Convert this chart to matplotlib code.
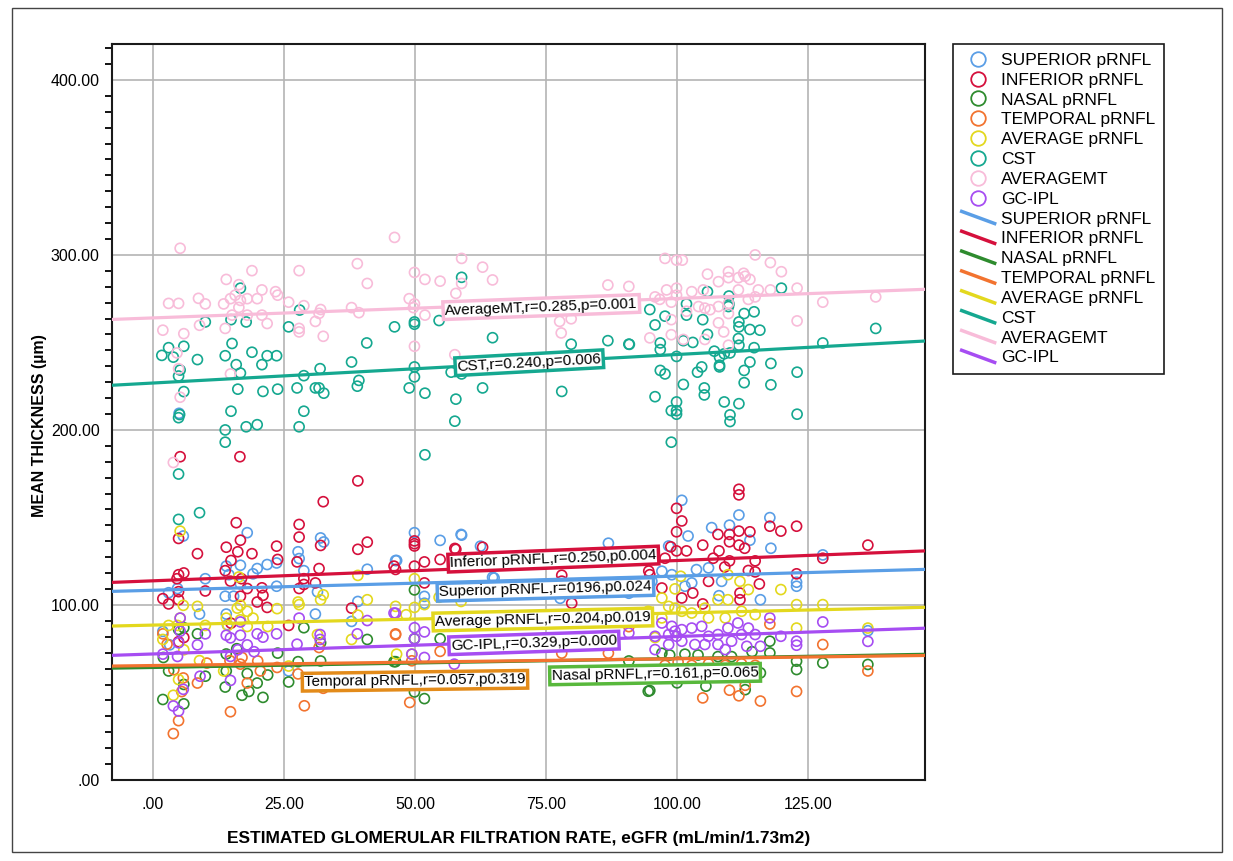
"""
Scatter of retinal layer thickness against eGFR, with linear fit lines
"""

import numpy as np
import matplotlib
matplotlib.use('Agg')
import matplotlib.pyplot as plt
from matplotlib.lines import Line2D
from matplotlib.patches import Rectangle
from matplotlib.legend_handler import HandlerBase
from matplotlib.ticker import FuncFormatter, MultipleLocator

plt.rcParams['font.family'] = ['Liberation Sans', 'DejaVu Sans']

# series names (legend order)
names = ['SUPERIOR pRNFL', 'INFERIOR pRNFL', 'NASAL pRNFL', 'TEMPORAL pRNFL',
         'AVERAGE pRNFL', 'CST', 'AVERAGEMT', 'GC-IPL']
colors = ['#5a9ee6', '#d5103c', '#2e8b2e', '#f2732f',
          '#e3d81e', '#15a890', '#f8bcd9', '#a64df2']

# scatter data
sup_x = [18.0, 5.8, 32.0, 32.6, 27.7, 27.9, 14.0, 16.7, 19.9, 21.8, 23.6, 19.1, 10.0, 14.5, 16.7,
         40.9, 46.3, 28.8, 31.4, 3.0, 4.7, 13.8, 15.4, 23.6, 8.9, 14.0, 39.1, 31.0, 37.9, 1.9,
         3.2, 14.2, 25.9, 49.9, 54.8, 58.8, 62.5, 46.5, 86.9, 51.8, 51.8, 65.1, 77.7, 90.8, 58.9,
         64.8, 100.9, 111.8, 117.7, 106.6, 110.0, 113.9, 117.9, 102.1, 98.4, 127.8, 103.7, 106.0,
         97.1, 95.2, 99.0, 108.5, 122.8, 122.8, 115.9, 108.0, 136.4, 101.5, 102.8, 5.0]
sup_y = [141.3, 139.4, 138.3, 136.0, 130.4, 126.5, 122.2, 122.7, 120.8, 123.1, 124.0, 117.8, 115.0,
         117.3, 112.0, 120.4, 125.4, 119.6, 107.5, 107.0, 109.4, 105.0, 105.0, 110.7, 94.8, 94.8,
         102.0, 94.8, 90.6, 84.9, 77.2, 88.7, 62.3, 141.3, 136.9, 140.3, 133.6, 125.4, 135.3, 104.9,
         101.0, 115.4, 103.8, 106.7, 139.9, 115.8, 159.8, 151.4, 149.9, 144.2, 145.6, 137.0, 132.4,
         139.4, 133.7, 128.6, 120.2, 121.2, 119.3, 113.5, 117.3, 113.5, 113.0, 110.7, 103.0, 105.3,
         85.3, 110.7, 112.6, 209.5]

inf_x = [39.1, 32.5, 15.9, 27.9, 27.9, 16.7, 4.9, 32.0, 40.9, 39.1, 8.5, 14.0, 16.2, 18.9, 23.6,
         23.8, 14.9, 27.5, 31.7, 13.8, 4.9, 5.9, 4.6, 14.8, 16.9, 28.8, 28.8, 31.0, 46.3, 18.0,
         20.8, 21.0, 16.7, 1.9, 3.0, 4.9, 4.9, 10.0, 19.9, 21.8, 37.9, 27.9, 25.9, 5.9, 4.9, 14.9,
         5.2, 16.6, 49.9, 49.9, 49.9, 57.8, 46.0, 49.9, 51.8, 54.8, 51.8, 94.6, 79.9, 78.0, 57.6,
         62.9, 78.0, 111.8, 111.8, 99.9, 100.9, 99.9, 117.7, 119.8, 122.8, 136.4, 98.8, 99.9,
         101.8, 97.7, 107.8, 110.0, 111.8, 113.9, 104.9, 108.0, 111.8, 110.0, 112.9, 106.9, 110.0,
         114.9, 109.1, 113.6, 114.9, 115.7, 122.8, 127.8, 112.0, 100.9, 103.0, 104.9, 97.1, 94.8,
         106.0, 112.0]
inf_y = [170.9, 159.0, 147.0, 146.0, 138.8, 137.0, 138.0, 134.0, 135.9, 131.8, 129.3, 133.0, 130.4,
         129.3, 133.6, 126.0, 125.4, 124.6, 120.8, 119.6, 117.3, 118.3, 115.0, 113.6, 115.0, 115.0,
         111.7, 112.6, 120.3, 109.4, 109.8, 105.5, 105.0, 103.6, 100.6, 103.0, 107.6, 108.0, 101.7,
         98.6, 98.2, 109.4, 88.3, 81.4, 79.0, 89.6, 184.7, 184.7, 136.6, 135.0, 133.7, 131.8, 122.2,
         122.2, 124.6, 126.0, 112.6, 119.4, 101.0, 113.6, 132.3, 133.0, 117.0, 166.1, 162.9, 155.2,
         148.0, 141.8, 145.0, 142.2, 145.0, 134.2, 133.2, 130.9, 130.9, 126.7, 140.3, 140.3, 142.2,
         141.8, 134.2, 130.9, 134.2, 136.1, 132.4, 126.7, 125.2, 125.2, 121.7, 119.7, 118.9, 112.0,
         117.8, 126.7, 106.8, 104.0, 106.8, 100.6, 109.7, 117.3, 113.5, 103.0]

nas_x = [4.9, 5.9, 8.5, 3.0, 1.9, 5.9, 5.9, 10.0, 14.0, 13.8, 18.0, 17.0, 18.3, 19.9, 21.0, 21.9,
         23.8, 25.9, 28.8, 32.0, 32.0, 27.7, 40.9, 46.3, 49.9, 49.9, 54.8, 46.0, 49.9, 51.8, 94.5,
         90.8, 117.7, 117.7, 122.8, 122.8, 127.8, 136.4, 94.8, 100.0, 105.5, 115.9, 113.0, 98.6,
         101.5, 104.0, 107.8, 110.4, 114.3, 97.1, 14.0, 16.0, 2.0]
nas_y = [86.0, 87.0, 83.5, 62.3, 46.0, 43.5, 54.6, 59.3, 62.3, 53.1, 60.8, 48.4, 50.6, 55.4, 47.2,
         60.0, 72.5, 56.0, 87.0, 78.4, 68.0, 67.6, 80.3, 67.6, 108.6, 80.7, 80.7, 67.6, 50.3, 46.5,
         50.7, 68.0, 79.3, 72.6, 67.9, 63.1, 66.9, 66.0, 51.1, 55.5, 53.6, 61.2, 51.6, 71.4, 71.9,
         71.4, 70.5, 70.5, 73.3, 72.4, 72.0, 75.0, 70.0]

tem_x = [1.9, 2.7, 5.8, 4.9, 3.9, 8.5, 14.8, 14.7, 16.7, 18.0, 20.5, 23.7, 27.7, 28.9, 32.5, 31.7,
         46.3, 10.3, 46.3, 54.8, 49.4, 49.0, 78.0, 86.9, 90.8, 127.8, 122.8, 117.7, 104.9, 110.0,
         111.8, 115.9, 136.4, 97.7, 100.2, 102.8, 106.0, 109.2, 112.3, 114.9, 113.0, 5.5, 4.0,
         17.0, 20.0]
tem_y = [83.5, 77.6, 58.3, 33.9, 26.5, 55.4, 39.0, 68.2, 66.2, 55.4, 62.3, 64.3, 60.6, 42.4, 52.4,
         75.7, 83.5, 66.8, 83.0, 73.5, 68.1, 44.3, 72.5, 72.5, 87.6, 77.4, 50.6, 89.1, 46.9, 51.3,
         48.1, 45.1, 62.3, 65.5, 67.4, 65.5, 66.4, 65.5, 66.4, 65.5, 54.1, 50.5, 63.0, 70.0, 68.0]

avg_x = [5.2, 16.4, 8.5, 5.8, 16.1, 16.7, 18.0, 23.7, 27.7, 27.9, 32.0, 32.5, 40.9, 39.1, 14.0,
         16.7, 19.1, 3.0, 5.2, 4.7, 21.9, 10.0, 14.3, 18.0, 1.9, 5.9, 8.9, 4.9, 3.9, 13.5, 25.9,
         37.9, 39.1, 46.3, 31.4, 49.9, 49.9, 48.3, 51.8, 54.6, 58.8, 46.5, 49.4, 100.7, 109.7,
         112.0, 119.8, 113.6, 99.6, 97.1, 98.4, 99.6, 100.9, 102.8, 105.3, 107.8, 109.7, 112.3,
         114.9, 122.8, 127.8, 122.8, 136.4, 94.5, 95.8, 106.0, 109.2, 97.1]
avg_y = [142.2, 116.0, 99.2, 99.8, 98.2, 99.8, 96.4, 97.9, 101.7, 100.2, 103.0, 105.8, 103.0, 116.9,
         92.5, 91.5, 92.5, 88.3, 92.5, 88.3, 87.7, 88.3, 88.3, 87.7, 80.3, 74.4, 68.2, 57.4, 48.4,
         62.3, 65.1, 80.3, 94.2, 99.2, 83.1, 115.0, 98.6, 94.4, 100.2, 104.4, 102.0, 71.9, 71.9,
         116.4, 117.3, 113.5, 108.8, 108.8, 109.2, 104.0, 99.2, 98.2, 96.4, 95.4, 98.2, 103.0, 103.0,
         96.4, 94.5, 100.2, 100.2, 86.8, 86.8, 96.4, 81.4, 92.6, 92.6, 92.6]

cst_x = [10.0, 14.9, 17.8, 16.7, 28.0, 25.9, 46.1, 49.9, 49.9, 58.9, 54.6, 40.8, 64.8, 79.8, 86.8,
         90.8, 3.0, 5.9, 1.7, 3.9, 8.5, 5.2, 4.9, 5.9, 5.1, 4.9, 15.1, 13.8, 15.9, 18.9, 21.8, 23.6,
         20.8, 16.7, 16.2, 21.0, 23.8, 14.9, 13.8, 13.8, 17.8, 19.9, 27.5, 28.8, 31.9, 31.0, 31.7,
         32.6, 28.8, 27.9, 37.9, 39.3, 39.0, 48.9, 49.9, 49.9, 51.9, 56.9, 58.9, 57.8, 57.6, 62.9,
         78.0, 4.9, 4.9, 8.9, 51.9, 105.8, 119.9, 109.9, 94.8, 101.8, 101.8, 95.8, 97.7, 104.9,
         109.9, 109.8, 105.8, 111.8, 111.8, 112.8, 114.7, 113.9, 115.8, 111.7, 111.8, 114.7, 90.9,
         96.8, 96.8, 103.0, 101.2, 99.9, 107.1, 108.1, 109.0, 110.1, 108.1, 108.1, 104.7, 103.9,
         96.8, 97.7, 101.2, 105.2, 105.2, 95.8, 99.9, 99.9, 98.9, 99.9, 98.9, 109.0, 111.8, 110.1,
         110.1, 112.8, 113.9, 112.8, 117.9, 117.9, 122.9, 122.9, 127.8, 137.9]
cst_y = [261.7, 263.0, 261.7, 281.0, 268.5, 258.9, 258.9, 261.7, 260.4, 287.2, 262.5, 249.7, 252.7,
         249.0, 251.0, 249.0, 247.0, 247.8, 242.6, 241.6, 240.2, 234.2, 230.8, 221.9, 208.8, 207.0,
         249.4, 242.4, 237.3, 244.4, 242.4, 242.4, 237.3, 232.5, 223.3, 222.0, 223.3, 210.7, 200.0,
         193.0, 201.8, 203.0, 224.0, 231.0, 235.0, 224.0, 224.0, 221.0, 210.7, 201.8, 238.8, 228.3,
         225.0, 224.0, 236.0, 230.3, 221.0, 233.0, 232.0, 217.6, 205.0, 224.0, 222.0, 174.8, 148.9,
         152.7, 185.8, 279.0, 281.0, 276.5, 268.8, 272.0, 265.6, 260.0, 265.0, 263.0, 272.0, 270.5,
         254.6, 261.7, 258.9, 266.5, 267.5, 257.4, 257.0, 252.2, 248.4, 247.0, 248.9, 249.7, 245.9,
         250.0, 251.0, 242.0, 245.0, 241.6, 243.5, 244.0, 237.0, 236.0, 236.0, 233.0, 234.0, 232.0,
         226.0, 224.0, 220.0, 219.0, 216.0, 211.0, 211.0, 209.0, 193.0, 216.0, 215.0, 208.6, 204.8,
         234.0, 238.8, 227.0, 238.0, 225.8, 233.0, 209.0, 249.7, 258.0]

amt_x = [5.2, 3.0, 4.9, 1.9, 5.9, 4.9, 5.2, 4.6, 8.7, 10.0, 8.9, 14.0, 13.5, 14.8, 15.7, 16.7,
         18.0, 18.9, 16.4, 19.9, 20.8, 13.8, 15.1, 18.0, 20.8, 21.8, 23.4, 23.8, 14.8, 16.4, 25.9,
         27.9, 28.8, 27.9, 27.9, 31.0, 32.0, 31.7, 32.5, 39.0, 40.9, 37.9, 39.3, 46.1, 49.9, 51.9,
         54.8, 48.9, 49.9, 49.7, 49.9, 51.9, 58.9, 58.9, 57.8, 57.6, 62.9, 64.8, 77.6, 79.8, 77.9,
         86.8, 90.8, 97.7, 99.9, 101.0, 95.8, 96.7, 98.0, 99.9, 99.9, 98.9, 102.8, 105.0, 105.8,
         107.9, 109.8, 109.8, 111.7, 112.7, 113.0, 113.9, 114.9, 117.8, 119.9, 115.5, 117.8, 122.9,
         111.7, 113.6, 114.9, 109.8, 107.9, 105.3, 106.3, 104.1, 101.8, 98.9, 98.9, 94.8, 101.2,
         105.3, 107.9, 108.9, 109.8, 109.8, 122.9, 127.8, 137.9, 3.9]
amt_y = [303.8, 272.3, 272.3, 257.0, 255.0, 235.0, 218.7, 244.0, 275.2, 272.0, 259.8, 286.0, 272.0,
         275.0, 277.0, 274.0, 275.0, 291.0, 270.0, 275.0, 280.0, 258.0, 265.6, 265.6, 265.6, 260.8,
         279.0, 277.0, 232.0, 283.0, 273.0, 291.0, 271.0, 258.0, 256.0, 262.0, 268.8, 266.6, 253.5,
         295.0, 283.7, 269.9, 267.0, 310.0, 290.0, 286.0, 285.0, 275.0, 272.0, 269.9, 247.8, 265.6,
         298.0, 283.7, 278.0, 243.0, 293.0, 285.7, 262.0, 263.5, 255.4, 282.8, 282.0, 298.0, 297.0,
         297.0, 276.0, 274.6, 280.0, 281.0, 277.0, 273.0, 279.0, 280.0, 289.0, 284.7, 290.4, 287.0,
         287.0, 289.5, 287.8, 286.0, 300.0, 295.6, 290.4, 280.0, 280.0, 281.0, 280.0, 274.6, 276.0,
         272.3, 270.5, 269.6, 268.7, 270.5, 267.8, 263.0, 254.4, 252.6, 251.7, 251.7, 261.2, 256.0,
         248.4, 266.5, 262.3, 273.0, 276.0, 181.4]

gc_x = [5.2, 5.2, 4.9, 10.0, 8.5, 14.0, 14.8, 16.7, 16.7, 19.9, 21.0, 23.6, 18.0, 16.2, 14.8, 19.3,
        27.5, 27.9, 31.9, 31.9, 1.9, 4.7, 9.0, 14.8, 5.8, 3.9, 4.9, 39.0, 40.9, 46.3, 49.9, 49.9,
        51.8, 46.0, 49.4, 51.8, 57.5, 90.8, 117.7, 127.8, 136.4, 97.1, 99.0, 99.6, 99.9, 100.9,
        98.4, 95.8, 102.8, 104.7, 106.0, 107.8, 109.7, 111.6, 112.3, 113.6, 114.9, 110.4, 107.8,
        105.3, 103.4, 100.9, 98.4, 95.8, 115.9, 113.3, 122.8, 122.8, 119.8, 109.2]
gc_y = [92.5, 85.0, 78.4, 83.5, 77.2, 82.7, 81.2, 82.7, 90.3, 83.5, 81.6, 83.5, 77.2, 74.4, 70.6,
        73.3, 77.6, 92.5, 83.1, 80.3, 71.9, 70.6, 59.3, 56.9, 51.8, 42.3, 39.4, 83.5, 91.1, 95.3,
        87.0, 80.7, 84.6, 95.4, 71.9, 70.0, 66.2, 84.0, 92.6, 90.3, 79.2, 89.7, 87.8, 85.0, 82.1,
        85.9, 83.1, 82.1, 86.8, 87.8, 82.1, 83.1, 86.8, 89.7, 83.1, 86.8, 83.1, 79.3, 77.4, 77.4,
        77.4, 79.3, 77.4, 74.5, 76.4, 76.4, 79.3, 77.0, 82.1, 74.5]

# linear fit lines: intercept, slope
fit_a = [108.4, 113.8, 64.3, 65.4, 88.5, 226.8, 264.0, 72.0]
fit_b = [0.081, 0.116, 0.051, 0.039, 0.069, 0.163, 0.111, 0.100]

# fit annotations: text, position, box colour
notes = ['Superior pRNFL,r=0196,p0.024', 'Inferior pRNFL,r=0.250,p0.004',
         'Nasal pRNFL,r=0.161,p=0.065', 'Temporal pRNFL,r=0.057,p0.319',
         'Average pRNFL,r=0.204,p0.019', 'CST,r=0.240,p=0.006',
         'AverageMT,r=0.285,p=0.001', 'GC-IPL,r=0.329,p=0.000']
note_x = [74.9, 76.4, 95.8, 50.0, 74.4, 71.8, 74.1, 72.7]
note_y = [108.9, 126.2, 60.5, 56.7, 91.7, 238.4, 270.2, 78.3]
note_ec = ['#5a9ee6', '#d5103c', '#58b83c', '#e38b1a',
           '#e3d81e', '#15a890', '#f8bcd9', '#a64df2']

xs_all = [sup_x, inf_x, nas_x, tem_x, avg_x, cst_x, amt_x, gc_x]
ys_all = [sup_y, inf_y, nas_y, tem_y, avg_y, cst_y, amt_y, gc_y]


class DiagLine(HandlerBase):
    # legend handle drawn as a short falling diagonal
    def create_artists(self, legend, orig_handle, xdescent, ydescent,
                       width, height, fontsize, trans):
        x0, y0 = -xdescent, -ydescent
        ln = Line2D([x0, x0 + width], [y0 + height, y0],
                    color=orig_handle.get_color(), lw=orig_handle.get_linewidth(),
                    transform=trans)
        return [ln]


fig = plt.figure(figsize=(12.33, 8.61), dpi=100)
ax = fig.add_axes([112 / 1233, 1 - 780 / 861, 813 / 1233, 736 / 861])
ax.set_xlim(-7.8, 147.3)
ax.set_ylim(0, 420.5)

for xv, yv, c in zip(xs_all, ys_all, colors):
    ax.scatter(xv, yv, s=52, facecolors='none', edgecolors=c, linewidths=1.2, zorder=3)

xl = np.array(ax.get_xlim())
for a, b, c in zip(fit_a, fit_b, colors):
    ax.plot(xl, a + b * xl, color=c, lw=2.3, zorder=4, solid_capstyle='butt')

for i, txt in enumerate(notes):
    ang = np.degrees(np.arctan(fit_b[i]))
    rot = ax.transData.transform_angles(np.array([ang]), np.array([[note_x[i], note_y[i]]]))[0]
    ax.text(note_x[i], note_y[i], txt, ha='center', va='center', fontsize=11,
            rotation=rot, rotation_mode='anchor', zorder=6,
            bbox=dict(boxstyle='square,pad=0.12', fc='white', ec=note_ec[i], lw=2.5))

ax.set_xticks([0, 25, 50, 75, 100, 125])
ax.set_yticks([0, 100, 200, 300, 400])
ax.yaxis.set_minor_locator(MultipleLocator(100 / 11))
fmt = FuncFormatter(lambda v, p: ('%.2f' % v).lstrip('0') if v == 0 else '%.2f' % v)
ax.xaxis.set_major_formatter(fmt)
ax.yaxis.set_major_formatter(fmt)
ax.tick_params(axis='x', length=0, labelsize=11.5, pad=12)
ax.tick_params(axis='y', which='major', length=0, labelsize=11.5, pad=9)
ax.tick_params(axis='y', which='minor', length=5, width=1.3, direction='out')
ax.grid(True, color='#b4b4b4', lw=1.2, zorder=0)
ax.set_axisbelow(True)
for sp in ax.spines.values():
    sp.set_linewidth(1.5)
    sp.set_color('#1a1a1a')

ax.set_xlabel('ESTIMATED GLOMERULAR FILTRATION RATE, eGFR (mL/min/1.73m2)',
              fontsize=12.5, fontweight='bold', labelpad=14)
ax.set_ylabel('MEAN THICKNESS (\u00b5m)', fontsize=11.5, fontweight='bold')
ax.yaxis.set_label_coords(-0.08, 0.482)

# legend: markers first, then fit lines
handles = [Line2D([], [], marker='o', ls='none', mfc='none', mec=c, ms=10.5, mew=1.3) for c in colors]
handles += [Line2D([], [], color=c, lw=2.5) for c in colors]
hmap = {h: DiagLine() for h in handles[8:]}
leg = fig.legend(handles, names + names, loc='upper left',
                 bbox_to_anchor=(953 / 1233, 1 - 44 / 861), borderaxespad=0,
                 fontsize=12.5, frameon=True, fancybox=False, edgecolor='#1a1a1a',
                 framealpha=1, labelspacing=0.27, handlelength=1.9, handletextpad=0.35,
                 borderpad=0.5, handler_map=hmap)
leg.get_frame().set_linewidth(1.2)

# outer border around the whole figure
fig.add_artist(Rectangle((12 / 1233, 1 - 852 / 861), 1210 / 1233, 844 / 861,
                         transform=fig.transFigure, fill=False, ec='#444444', lw=1))

fig.savefig('out.png', dpi=100)
